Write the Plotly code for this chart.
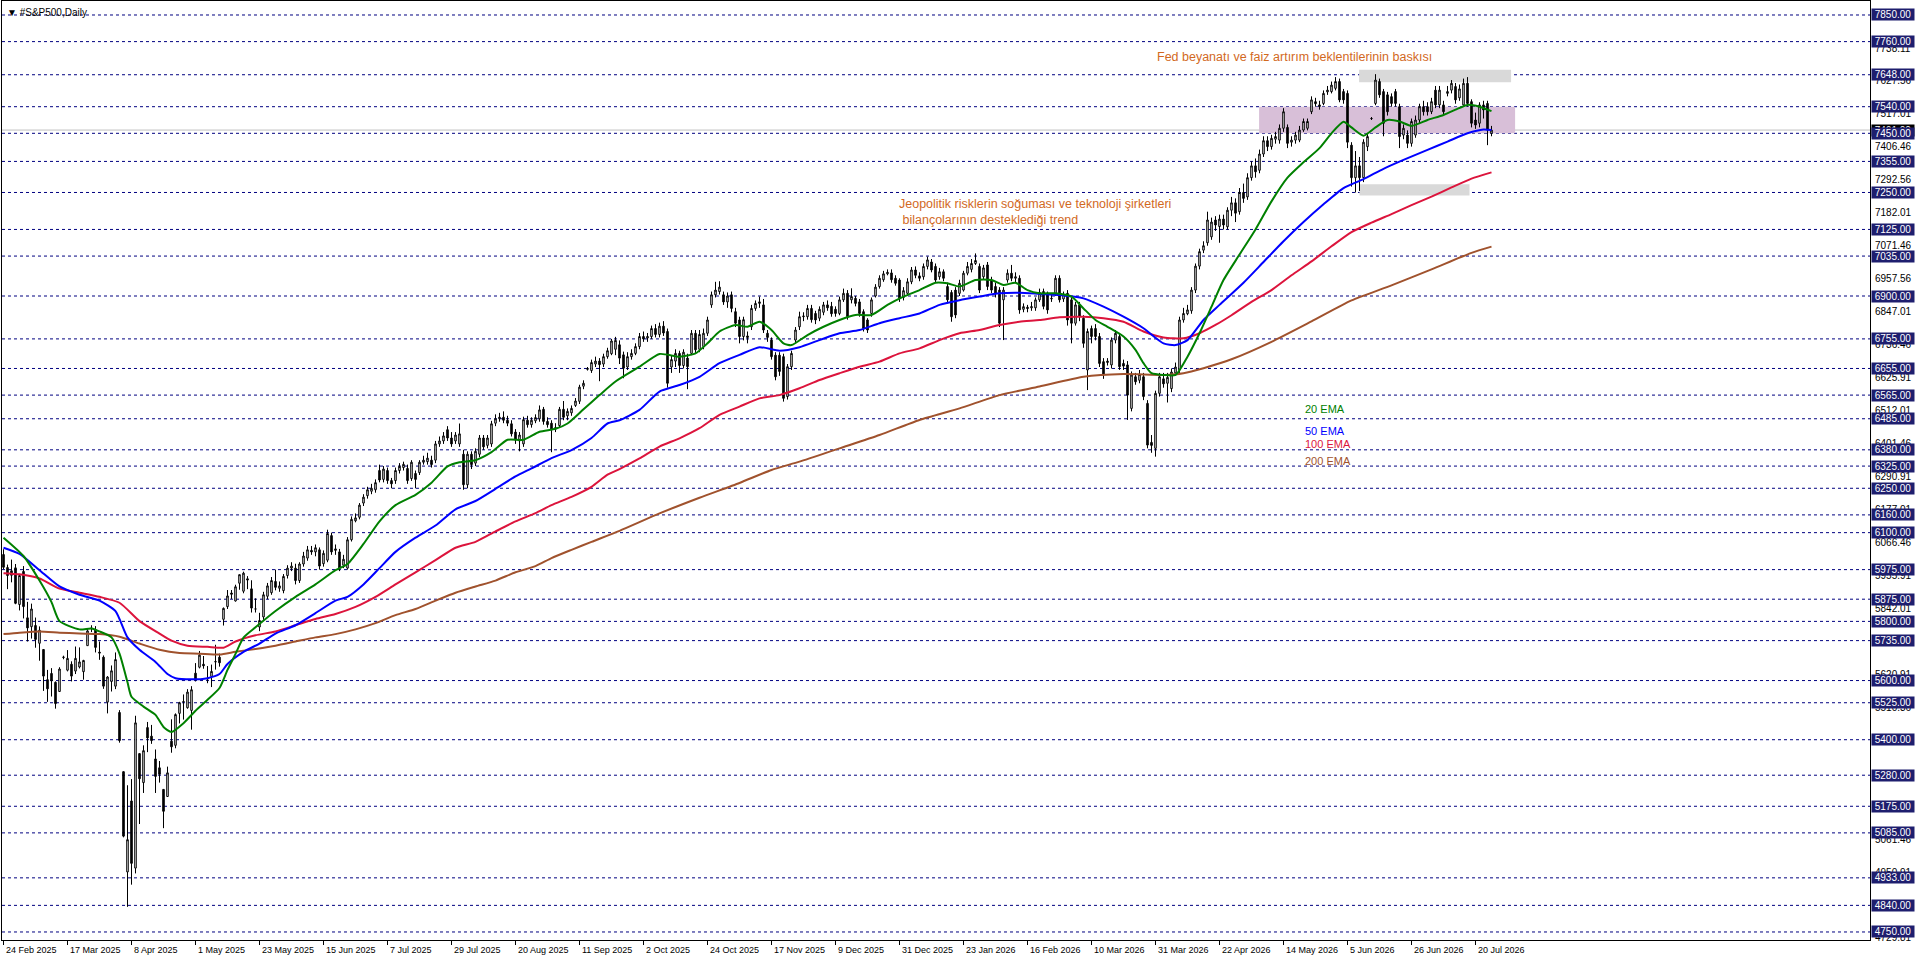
import plotly.graph_objects as go

# ---------------- data ----------------
opens = [
 6026,5982,5971,5981,5857,5969,5812,5782,5786,5726,5705,5603,5624,5594,5563,5678,
 5635,5655,5632,5646,5630,5718,5775,5772,5696,5679,5527,5597,5581,5492,5292,4953,
 5193,4966,5353,5255,5441,5412,5335,5305,5232,5208,5395,5381,5489,5529,5508,5499,5625,
 5645,5655,5605,5614,5663,5679,5807,5850,5896,5869,5929,5902,5944,5910,5842,5781,
 5815,5885,5897,5935,5912,5904,5955,5980,5980,5938,5994,6014,6040,6035,6042,5995,
 6007,6090,6040,6035,5990,5980,6076,6140,6152,6200,6225,6240,6245,6310,6280,6310,6276,6276,6310,6320,
 6317,6283,6300,6303,6338,6340,6345,6345,6400,6410,6448,6420,6410,6400,6365,6262,6365,6335,6365,6420,
 6395,6400,6470,6485,6490,6480,6468,6440,6410,6400,6480,6465,6478,6485,6517,6476,6470,6450,6462,6517,
 6495,6505,6530,6544,6595,6652,6648,6670,6680,6670,6695,6705,6720,6735,
 6701,6660,6695,6706,6729,6763,6758,6763,6790,6770,6798,6780,6660,6680,6706,6665,6690,6706,6774,6720,
 6729,6774,6870,6904,6915,6904,6880,6904,6847,6819,6763,6765,6796,6858,6875,6870,6774,6751,6700,6700,
 6695,6560,6661,6751,6796,6830,6830,6858,6841,6825,6845,6870,6865,6855,6841,6887,6909,6887,6892,6880,
 6847,6819,6841,6900,6932,6955,6975,6978,6960,6954,6895,6909,6948,6988,6968,6965,7000,7015,7000,6965,
 6982,6932,6912,6920,6909,6920,6977,6990,7010,7000,6965,7005,6954,6932,6920,6887,6954,6977,6960,6960,
 6855,6862,6860,6860,6887,6915,6909,6890,6909,6960,6890,6909,6887,6808,6870,6825,6650,6790,6790,6763,
 6678,6675,6667,6751,6763,6672,6667,6520,6627,6615,6627,6537,6405,6385,6571,6620,6605,6587,6640,6650,
 6819,6840,6850,6920,7001,7055,7080,7100,7157,7135,7160,7134,
 7190,7215,7185,7250,7235,7300,7340,7325,7380,7425,7405,7430,7427,7467,7470,7420,7427,7427,7461,7467,
 7523,7557,7546,7551,7590,7591,7602,7625,7591,7585,7410,7300,7340,7300,7405,7500,7551,7625,7591,7580,
 7574,7591,7540,7444,7444,7416,7444,7495,7540,7540,7523,7596,7546,7546,7585,7596,7608,7570,7546,7619,
 7557,7495,7484,7546,7551,7450]

highs = [
 6044,5992,6009,5994,5959,5987,5866,5860,5813,5783,5706,5636,5642,5597,5645,5684,
 5703,5665,5715,5712,5670,5775,5787,5784,5732,5685,5615,5651,5695,5500,5292,5246,
 5267,5481,5353,5381,5460,5450,5367,5328,5232,5309,5469,5489,5528,5553,5571,5581,5659,
 5700,5683,5649,5654,5721,5691,5847,5906,5906,5924,5958,5968,5953,5939,5878,5829,
 5900,5930,5950,5975,5935,5960,5990,6000,5995,6000,6035,6055,6055,6060,6050,6040,
 6110,6100,6060,6045,6025,6085,6155,6165,6200,6230,6255,6265,6280,6330,6325,6320,6285,6320,6335,6340,
 6330,6345,6310,6345,6360,6370,6360,6410,6425,6440,6460,6440,6440,6469,6380,6375,6375,6385,6430,6430,
 6430,6478,6500,6505,6510,6495,6480,6450,6440,6492,6495,6490,6500,6530,6525,6490,6480,6470,6525,6545,
 6520,6530,6555,6600,6615,6660,6685,6695,6690,6705,6725,6755,6762,6750,
 6712,6710,6720,6740,6775,6780,6775,6800,6805,6810,6815,6790,6700,6720,6715,6720,6705,6785,6785,6785,
 6790,6830,6915,6948,6950,6915,6912,6915,6860,6830,6830,6780,6870,6885,6898,6890,6785,6760,6710,6710,
 6705,6670,6715,6795,6847,6845,6870,6870,6850,6865,6880,6885,6880,6865,6898,6925,6920,6926,6900,6890,
 6855,6825,6895,6940,6970,6985,6990,6990,6970,6960,6930,6960,6998,7000,6980,7010,7033,7025,7010,6995,
 6990,6945,6920,6930,6955,6985,7015,7025,7044,7010,7005,7015,6965,6945,6930,6930,6990,7005,6980,6970,
 6875,6870,6880,6895,6925,6925,6915,6905,6970,6970,6915,6920,6895,6880,6880,6835,6790,6800,6805,6775,
 6690,6690,6760,6785,6775,6685,6680,6645,6640,6650,6640,6548,6430,6580,6640,6640,6640,6655,6675,6830,
 6860,6870,6930,7010,7060,7085,7185,7165,7170,7175,7175,7200,
 7235,7230,7265,7280,7315,7355,7365,7395,7440,7440,7445,7455,7480,7535,7480,7440,7455,7475,7500,7500,
 7575,7570,7560,7595,7610,7625,7640,7635,7600,7595,7420,7390,7370,7430,7450,7505,7650,7635,7600,7590,
 7585,7600,7550,7480,7460,7500,7510,7550,7560,7555,7570,7610,7610,7560,7610,7630,7620,7615,7635,7640,
 7565,7520,7555,7560,7560,7475]

lows = [
 5977,5909,5932,5858,5837,5810,5732,5742,5711,5667,5565,5528,5546,5505,5563,5672,
 5631,5597,5622,5641,5603,5718,5764,5695,5670,5572,5489,5563,5571,5390,5070,4835,
 4910,4948,5115,5220,5358,5386,5220,5255,5101,5208,5356,5371,5455,5468,5505,5434,5597,
 5641,5640,5591,5578,5637,5647,5786,5842,5876,5867,5907,5895,5909,5830,5830,5767,
 5805,5875,5890,5905,5900,5895,5945,5970,5925,5930,5985,6005,6025,6020,5975,5985,
 6000,6025,6025,5970,5980,5975,6070,6135,6145,6190,6215,6230,6235,6270,6270,6265,6250,6265,6300,6310,
 6265,6275,6250,6295,6330,6330,6320,6335,6390,6400,6410,6390,6400,6390,6245,6250,6315,6325,6355,6380,
 6385,6390,6460,6475,6470,6460,6425,6400,6375,6390,6455,6455,6470,6475,6465,6455,6372,6440,6455,6480,
 6480,6495,6525,6535,6585,6648,6640,6660,6612,6660,6688,6700,6700,6670,
 6622,6650,6685,6700,6720,6745,6745,6755,6760,6760,6765,6590,6640,6660,6640,6655,6585,6700,6705,6710,
 6720,6765,6860,6895,6905,6870,6860,6845,6795,6740,6750,6740,6785,6850,6860,6775,6745,6685,6615,6630,
 6543,6550,6650,6740,6785,6815,6820,6810,6805,6815,6835,6850,6830,6830,6835,6880,6820,6875,6865,6830,
 6780,6775,6830,6895,6925,6948,6970,6945,6935,6880,6885,6900,6940,6960,6950,6955,6990,6980,6945,6955,
 6950,6875,6813,6825,6900,6915,6970,6980,7005,6910,6955,6920,6910,6895,6795,6751,6945,6950,6945,6840,
 6845,6845,6850,6850,6880,6855,6840,6880,6900,6878,6880,6800,6740,6800,6815,6725,6582,6740,6750,6660,
 6620,6665,6655,6740,6650,6650,6481,6510,6600,6605,6548,6385,6370,6357,6560,6590,6540,6575,6630,6640,
 6810,6835,6840,6910,6990,7045,7070,7090,7120,7080,7125,7125,
 7170,7150,7175,7215,7225,7290,7300,7315,7370,7390,7395,7415,7415,7455,7400,7405,7415,7420,7455,7460,
 7515,7540,7530,7545,7580,7585,7595,7555,7550,7400,7270,7250,7255,7285,7390,7495,7545,7570,7440,7510,
 7540,7540,7400,7430,7400,7405,7435,7485,7510,7510,7515,7535,7535,7510,7575,7585,7550,7560,7540,7540,
 7470,7465,7470,7500,7410,7440]

closes = [
 5983,5955,5956,5861,5955,5850,5778,5842,5739,5770,5615,5572,5599,5522,5639,5679,
 5675,5615,5675,5663,5668,5768,5777,5712,5693,5581,5612,5633,5671,5397,5074,5062,
 4982,5457,5268,5363,5406,5397,5276,5283,5158,5288,5376,5485,5525,5529,5561,5569,5604,
 5686,5650,5607,5631,5664,5660,5844,5886,5892,5917,5958,5963,5940,5845,5842,5803,
 5890,5920,5938,5915,5920,5952,5980,5987,5938,5994,6021,6042,6035,6049,5987,6030,
 6097,6035,6045,5980,6010,6076,6145,6150,6193,6220,6245,6250,6269,6278,6315,6276,6265,6310,6324,6331,
 6276,6338,6280,6338,6345,6352,6330,6400,6410,6427,6420,6400,6430,6434,6262,6365,6330,6375,6420,6390,
 6420,6468,6485,6490,6480,6470,6434,6413,6430,6482,6465,6480,6489,6515,6476,6465,6448,6455,6517,6490,
 6510,6520,6545,6592,6605,6655,6675,6680,6668,6695,6715,6748,6750,6690,
 6656,6695,6706,6729,6763,6755,6763,6790,6770,6798,6775,6605,6685,6706,6665,6710,6661,6774,6718,6770,
 6774,6819,6904,6920,6930,6880,6900,6858,6808,6763,6820,6760,6858,6875,6880,6785,6760,6695,6627,6645,
 6554,6661,6706,6785,6830,6832,6858,6820,6819,6855,6870,6860,6840,6841,6887,6909,6830,6898,6875,6841,
 6790,6785,6887,6930,6960,6975,6980,6955,6943,6892,6918,6948,6988,6970,6960,7000,7022,6988,6954,6982,
 6960,6887,6830,6836,6943,6977,7000,7010,7020,6920,6995,6932,6920,6909,6808,6920,6977,6960,6965,6853,
 6864,6858,6864,6887,6912,6865,6853,6892,6960,6887,6905,6819,6808,6870,6830,6740,6780,6763,6763,6672,
 6633,6680,6751,6774,6661,6663,6565,6633,6610,6635,6560,6396,6395,6571,6627,6603,6625,6643,6660,6819,
 6841,6853,6920,7001,7050,7070,7157,7150,7140,7160,7140,7190,
 7215,7180,7250,7230,7300,7340,7320,7380,7425,7405,7433,7439,7467,7523,7416,7427,7444,7461,7490,7490,
 7563,7550,7541,7585,7596,7613,7625,7563,7563,7420,7300,7340,7300,7420,7439,7500,7630,7580,7484,7523,
 7551,7551,7439,7467,7416,7490,7495,7540,7523,7523,7557,7546,7596,7523,7591,7619,7563,7600,7619,7551,
 7484,7478,7546,7529,7461,7461]

# moving averages, sampled along each line (bar index, value)
ema20_bars = [0,5,9,12,14,19,22,24,27,29,31,32,35,38,40,42,45,48,51,54,56,58,60,63,68,73,78,83,86,90,94,98,103,107,111,114,118,122,126,130,134,138,141,145,149,153,159,164,169,173,176,179,183,186,189,192,195,197,201,205,209,213,217,221,225,229,233,236,239,243,247,250,253,256,259,263,267,270,273,276,280,283,285,287,290,293,296,299,302,305,309,313,317,321,325,329,332,335,337,340,343,346,349,352,356,360,363,366,369,372]
ema20_vals = [6083,6021,5938,5865,5801,5773,5776,5766,5746,5691,5594,5545,5512,5484,5443,5426,5456,5498,5535,5575,5636,5690,5745,5780,5835,5883,5925,5973,5994,6062,6138,6193,6228,6269,6324,6338,6345,6372,6414,6414,6441,6451,6469,6517,6565,6611,6661,6704,6695,6706,6740,6780,6802,6796,6813,6785,6740,6734,6768,6796,6819,6836,6836,6870,6898,6920,6945,6943,6932,6954,6954,6937,6945,6920,6909,6909,6898,6858,6819,6796,6763,6718,6673,6639,6633,6633,6695,6774,6864,6954,7040,7125,7220,7300,7352,7400,7450,7489,7470,7442,7470,7495,7490,7475,7495,7512,7530,7546,7540,7525]

ema50_bars = [0,4,9,14,19,24,28,31,34,38,41,43,47,51,54,56,60,64,68,73,78,83,86,90,94,98,103,108,113,118,123,128,132,137,142,147,151,154,159,164,169,174,179,184,189,194,199,204,209,214,219,224,229,234,239,244,249,254,259,264,270,275,280,285,290,293,296,300,304,310,315,320,325,330,335,340,345,350,356,361,366,370,372]
ema50_vals = [6049,6028,5973,5918,5890,5870,5835,5746,5704,5663,5622,5608,5604,5608,5622,5656,5697,5725,5759,5787,5828,5870,5883,5925,5980,6035,6083,6124,6179,6207,6248,6290,6317,6352,6379,6420,6469,6480,6515,6577,6599,6627,6673,6701,6727,6715,6727,6751,6774,6785,6808,6825,6841,6870,6886,6898,6909,6911,6907,6903,6892,6864,6830,6791,6740,6734,6751,6819,6870,6945,7015,7085,7150,7210,7265,7295,7330,7360,7394,7422,7450,7463,7461]

ema100_bars = [0,4,9,14,19,24,29,34,39,42,46,51,55,58,63,68,73,78,83,88,93,98,103,108,113,118,123,128,133,137,142,147,151,154,159,164,169,174,179,184,189,194,199,204,209,214,219,224,229,234,239,244,249,254,259,264,270,275,280,285,290,295,299,303,307,312,317,322,327,332,337,342,347,352,357,362,367,372]
ema100_vals = [5963,5959,5945,5911,5897,5883,5863,5801,5759,5735,5718,5714,5711,5732,5753,5766,5787,5808,5825,5849,5883,5925,5966,6007,6049,6069,6104,6138,6166,6193,6221,6255,6296,6315,6351,6391,6419,6453,6498,6526,6554,6565,6588,6616,6639,6661,6678,6706,6723,6751,6774,6785,6802,6813,6819,6828,6830,6825,6813,6780,6760,6757,6774,6802,6835,6880,6920,6970,7017,7068,7116,7148,7177,7207,7236,7267,7297,7318]

ema200_bars = [0,4,9,14,19,24,29,34,39,44,49,54,58,63,68,73,78,83,88,93,98,103,108,113,118,123,128,133,137,142,147,154,164,174,184,192,199,209,219,229,239,249,259,270,280,290,295,300,307,317,327,337,347,357,367,372]
ema200_vals = [5757,5762,5766,5762,5759,5757,5748,5725,5704,5693,5691,5688,5697,5707,5718,5732,5746,5757,5773,5794,5821,5842,5870,5897,5918,5938,5966,5987,6014,6042,6069,6106,6165,6218,6268,6312,6340,6385,6430,6481,6520,6565,6594,6627,6636,6633,6639,6656,6686,6745,6814,6885,6936,6990,7046,7067]

tick_labels = ["24 Feb 2025","17 Mar 2025","8 Apr 2025","1 May 2025","23 May 2025","15 Jun 2025",
               "7 Jul 2025","29 Jul 2025","20 Aug 2025","11 Sep 2025","2 Oct 2025","24 Oct 2025",
               "17 Nov 2025","9 Dec 2025","31 Dec 2025","23 Jan 2026","16 Feb 2026","10 Mar 2026",
               "31 Mar 2026","22 Apr 2026","14 May 2026","5 Jun 2026","26 Jun 2026","20 Jul 2026"]
tick_bars = [0,16,32,48,64,80,96,112,128,144,160,176,192,208,224,240,256,272,288,304,320,336,352,368]

level_lines = [7850,7760,7648,7540,7450,7355,7250,7125,7035,6900,6755,6655,6565,6485,6380,6325,
               6250,6160,6100,5975,5875,5800,5735,5600,5525,5400,5280,5175,5085,4933,4840,4750]
grid_labels = [7738.11,7627.56,7517.01,7406.46,7292.56,7182.01,7071.46,6957.56,6847.01,6736.46,
               6625.91,6512.01,6401.46,6290.91,6177.01,6066.46,5955.91,5842.01,5620.91,
               5510.36,5061.46,4950.91,4729.81]

# zones: (first bar, last bar, low price, high price)
zone_purple = (313.9, 377.9, 7450, 7540)
zone_top = (338.9, 376.9, 7623, 7665)
zone_low = (339.0, 366.5, 7240, 7278)

# ---------------- figure ----------------
FONT = "Liberation Sans, Arial, sans-serif"
NAVY = "#1e1e6e"
x = list(range(len(closes)))

fig = go.Figure()
fig.add_trace(go.Candlestick(
    x=x, open=opens, high=highs, low=lows, close=closes,
    increasing=dict(line=dict(color="black", width=1), fillcolor="white"),
    decreasing=dict(line=dict(color="black", width=1), fillcolor="black"),
    whiskerwidth=0, showlegend=False, hoverinfo="skip"))

for bx, vals, col in [(ema200_bars, ema200_vals, "#a0522d"),
                      (ema100_bars, ema100_vals, "#dc143c"),
                      (ema50_bars, ema50_vals, "#0000ff"),
                      (ema20_bars, ema20_vals, "#008000")]:
    fig.add_trace(go.Scatter(x=bx, y=vals, mode="lines",
                             line=dict(color=col, width=2, shape="spline", smoothing=0.6),
                             showlegend=False, hoverinfo="skip"))

shapes = []
for (x0, x1, y0, y1), col in [(zone_purple, "#d8bfd8"), (zone_top, "#d9d9d9"), (zone_low, "#d9d9d9")]:
    shapes.append(dict(type="rect", xref="x", yref="y", x0=x0, x1=x1, y0=y0, y1=y1,
                       fillcolor=col, line=dict(width=0), layer="below"))
for lv in level_lines:
    shapes.append(dict(type="line", xref="paper", yref="y", x0=0, x1=1, y0=lv, y1=lv,
                       line=dict(color="#000080", width=1, dash="3px,3px"), layer="below"))
last_price = closes[-1]
shapes.append(dict(type="line", xref="paper", yref="y", x0=0, x1=1, y0=last_price, y1=last_price,
                   line=dict(color="#c0c0c0", width=1), layer="below"))

ann = []
for g in grid_labels:
    ann.append(dict(xref="paper", yref="y", x=1, y=g, xanchor="left", yanchor="middle", xshift=3,
                    text=f"{g:.2f}", showarrow=False, font=dict(family=FONT, size=10, color="black")))
ann.append(dict(xref="paper", yref="y", x=1, y=last_price, xanchor="left", yanchor="middle", xshift=1,
                text=f"{last_price:.2f}", showarrow=False, bgcolor="black", borderpad=0, width=42,
                font=dict(family=FONT, size=10, color="white")))
for lv in level_lines:
    ann.append(dict(xref="paper", yref="y", x=1, y=lv, xanchor="left", yanchor="middle", xshift=1,
                    text=f"{lv:.2f}", showarrow=False, bgcolor=NAVY, borderpad=0, width=42, height=11,
                    font=dict(family=FONT, size=10, color="white")))
for tb, tl in zip(tick_bars, tick_labels):
    ann.append(dict(xref="x", yref="paper", x=tb, y=0, xanchor="left", yanchor="top", xshift=0, yshift=-3,
                    text=tl, showarrow=False, font=dict(family=FONT, size=9, color="black")))

ann.append(dict(xref="paper", yref="paper", x=0, y=1, xanchor="left", yanchor="top", xshift=3, yshift=-4,
                text="▼ #S&P500,Daily", showarrow=False, font=dict(family=FONT, size=10, color="black")))

NOTE = "#d2691e"
ann.append(dict(xref="x", yref="y", x=287.9, y=7708, xanchor="left", yanchor="middle",
                text="Fed beyanatı ve faiz artırım beklentilerinin baskısı", showarrow=False,
                font=dict(family=FONT, size=12.5, color=NOTE)))
ann.append(dict(xref="x", yref="y", x=223.4, y=7184, xanchor="left", yanchor="middle", align="left",
                text="Jeopolitik risklerin soğuması ve teknoloji şirketleri<br> bilançolarının desteklediği trend",
                showarrow=False, font=dict(family=FONT, size=12.5, color=NOTE)))
for txt, yv, col in [("20 EMA", 6518, "#008000"), ("50 EMA", 6444, "#0000ff"),
                     ("100 EMA", 6400, "#dc143c"), ("200 EMA", 6342, "#a0522d")]:
    ann.append(dict(xref="x", yref="y", x=324.9, y=yv, xanchor="left", yanchor="middle", text=txt,
                    showarrow=False, font=dict(family=FONT, size=11, color=col)))

fig.update_layout(
    width=1916, height=963, margin=dict(l=2, r=46, t=1, b=23),
    paper_bgcolor="white", plot_bgcolor="white", showlegend=False, boxgap=0.45,
    shapes=shapes, annotations=ann, hovermode=False,
    xaxis=dict(range=[-0.375, 466.625], showgrid=False, zeroline=False, showline=True, mirror=True,
               linecolor="black", linewidth=1, tickvals=tick_bars, ticks="outside", ticklen=4,
               tickcolor="black", showticklabels=False, rangeslider=dict(visible=False), fixedrange=True),
    yaxis=dict(range=[4722.9, 7897.3], side="right", showgrid=False, zeroline=False, showline=True,
               mirror=True, linecolor="black", linewidth=1, showticklabels=False, ticks="", fixedrange=True),
)

fig.write_html("out.html", config={"displayModeBar": False, "staticPlot": True},
               post_script="document.body.style.margin='0';")
